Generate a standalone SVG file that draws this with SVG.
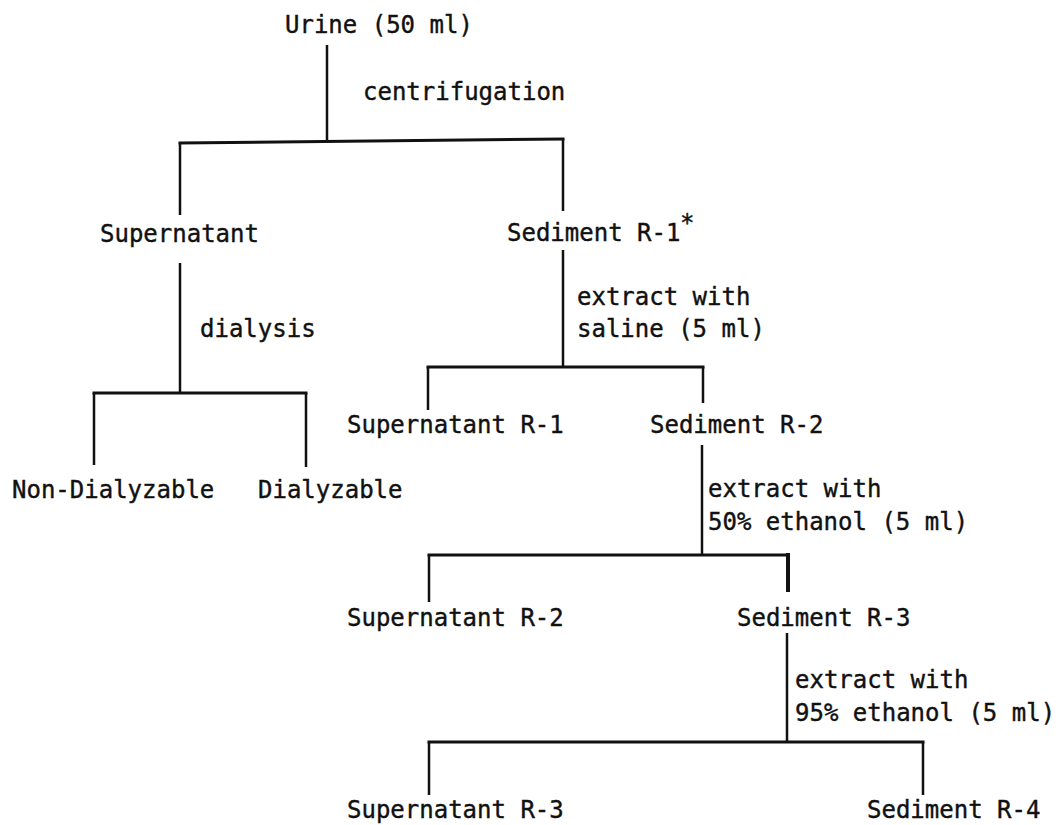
<svg xmlns="http://www.w3.org/2000/svg" width="1062" height="825" viewBox="0 0 1062 825">
<style>
text{font-family:"DejaVu Sans Mono","Liberation Mono",monospace;font-size:24px;fill:#111;stroke:#111;stroke-width:0.4}
.bar{stroke:#111;stroke-width:3;fill:none;stroke-linecap:square}
.v{stroke:#111;stroke-width:2.5;fill:none}
</style>
<rect width="1062" height="825" fill="#fff"/>
<g id="connectors">
<path class="v" d="M327 45V141"/>
<path class="bar" d="M180 143L563 139"/>
<path class="v" d="M180 143V215M563 139V211"/>
<path class="v" d="M180 263V393"/>
<path class="bar" d="M94 393H306"/>
<path class="v" d="M94 393V465M306 393V467"/>
<path class="v" d="M563 250V367"/>
<path class="bar" d="M428 367H703"/>
<path class="v" d="M428 367V410M703 367V403"/>
<path class="v" d="M702 445V554"/>
<path class="bar" d="M429 555H788"/>
<path class="v" d="M429 555V602"/>
<path class="bar" d="M788 555V590" style="stroke-width:4"/>
<path class="v" d="M787 633V742"/>
<path class="bar" d="M429 742H923"/>
<path class="v" d="M429 742V795M923 742V795"/>
</g>
<g id="urine"><text x="285" y="33">Urine (50 ml)</text></g>
<g id="label-centrifugation"><text x="363" y="100">centrifugation</text></g>
<g id="supernatant"><text x="100" y="242">Supernatant</text></g>
<g id="sediment-r1"><text x="507" y="241">Sediment R-1</text><text x="680" y="231">*</text></g>
<g id="label-dialysis"><text x="200" y="337">dialysis</text></g>
<g id="label-saline"><text x="577" y="305">extract with</text><text x="577" y="337">saline (5 ml)</text></g>
<g id="non-dialyzable"><text x="12" y="498">Non-Dialyzable</text></g>
<g id="dialyzable"><text x="258" y="498">Dialyzable</text></g>
<g id="supernatant-r1"><text x="347" y="433">Supernatant R-1</text></g>
<g id="sediment-r2"><text x="650" y="433">Sediment R-2</text></g>
<g id="label-ethanol50"><text x="708" y="497">extract with</text><text x="708" y="530">50% ethanol (5 ml)</text></g>
<g id="supernatant-r2"><text x="347" y="626">Supernatant R-2</text></g>
<g id="sediment-r3"><text x="737" y="626">Sediment R-3</text></g>
<g id="label-ethanol95"><text x="795" y="688">extract with</text><text x="795" y="721">95% ethanol (5 ml)</text></g>
<g id="supernatant-r3"><text x="347" y="818">Supernatant R-3</text></g>
<g id="sediment-r4"><text x="867" y="818">Sediment R-4</text></g>
</svg>
